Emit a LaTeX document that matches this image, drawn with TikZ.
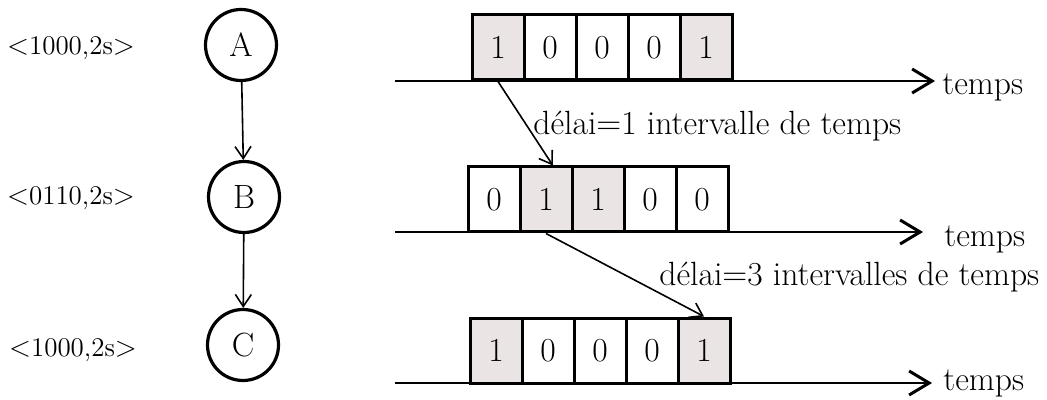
\documentclass[tikz,border=0pt]{standalone}
\usepackage{fontspec}
\usepackage{amsmath}
\usetikzlibrary{arrows.meta,calc}
\definecolor{bitgray}{RGB}{234,228,228}
\tikzset{
  bit/.style={draw,line width=1.5pt,minimum width=26pt,minimum height=32.5pt,inner sep=0pt},
  bitset/.style={bit,fill=bitgray},
  task/.style={circle,draw,line width=1.6pt,minimum size=35.5pt,inner sep=0pt},
  msg/.style={font=\fontsize{13.5}{16}\selectfont},
  timeline/.style={line width=1.2pt,-{Straight Barb[length=10pt,width=12pt,line width=1.5pt]}},
  link/.style={line width=0.8pt,-{Straight Barb[length=6pt,width=8pt]}}
}
\begin{document}
\begin{tikzpicture}[x=0.5pt,y=-0.5pt,every node/.style={font=\fontsize{16.8}{20}\selectfont}]
\useasboundingbox (0,0) rectangle (1047,400);
% messages
\node[msg] (mA) at (71,48) {$<$1000,2s$>$};
\node[msg] (mB) at (71,198) {$<$0110,2s$>$};
\node[msg] (mC) at (73,350) {$<$1000,2s$>$};
% tasks
\node[task] (A) at (241,45) {A};
\node[task] (B) at (244,197) {B};
\node[task] (C) at (243,345) {C};
\path[draw,link] (A) -- (B);
\path[draw,link] (B) -- (C);
% time axes
\coordinate (t1s) at (395,81);
\coordinate (t1e) at (935,81);
\coordinate (t2s) at (395,232);
\coordinate (t2e) at (923,232);
\coordinate (t3s) at (395,383);
\coordinate (t3e) at (932,383);
\draw[timeline] (t1s) -- (t1e);
\draw[timeline] (t2s) -- (t2e);
\draw[timeline] (t3s) -- (t3e);
\node[anchor=west,inner sep=0pt] (temps1) at (942,87) {temps};
\node[anchor=west,inner sep=0pt] (temps2) at (944,239) {temps};
\node[anchor=west,inner sep=0pt] (temps3) at (943,383) {temps};
% bits of A
\node[bitset] (a1) at (498,47.5) {1};
\node[bit] (a2) at (550,47.5) {0};
\node[bit] (a3) at (602,47.5) {0};
\node[bit] (a4) at (654,47.5) {0};
\node[bitset] (a5) at (706,47.5) {1};
% bits of B
\node[bit] (b1) at (494,199.5) {0};
\node[bitset] (b2) at (546,199.5) {1};
\node[bitset] (b3) at (598,199.5) {1};
\node[bit] (b4) at (650,199.5) {0};
\node[bit] (b5) at (702,199.5) {0};
% bits of C
\node[bitset] (c1) at (496,350.5) {1};
\node[bit] (c2) at (548,350.5) {0};
\node[bit] (c3) at (600,350.5) {0};
\node[bit] (c4) at (652,350.5) {0};
\node[bitset] (c5) at (704,350.5) {1};
% delays
\path[draw,link] (a1.south) -- ($(b2.north)!0.25!(b2.north east)$);
\path[draw,link] (b2.south) -- (c5.north);
\node[anchor=west,inner sep=0pt] (d1) at (533,126) {délai$=$1 intervalle de temps};
\node[anchor=west,inner sep=0pt] (d2) at (659,277) {délai$=$3 intervalles de temps};
\end{tikzpicture}
\end{document}
